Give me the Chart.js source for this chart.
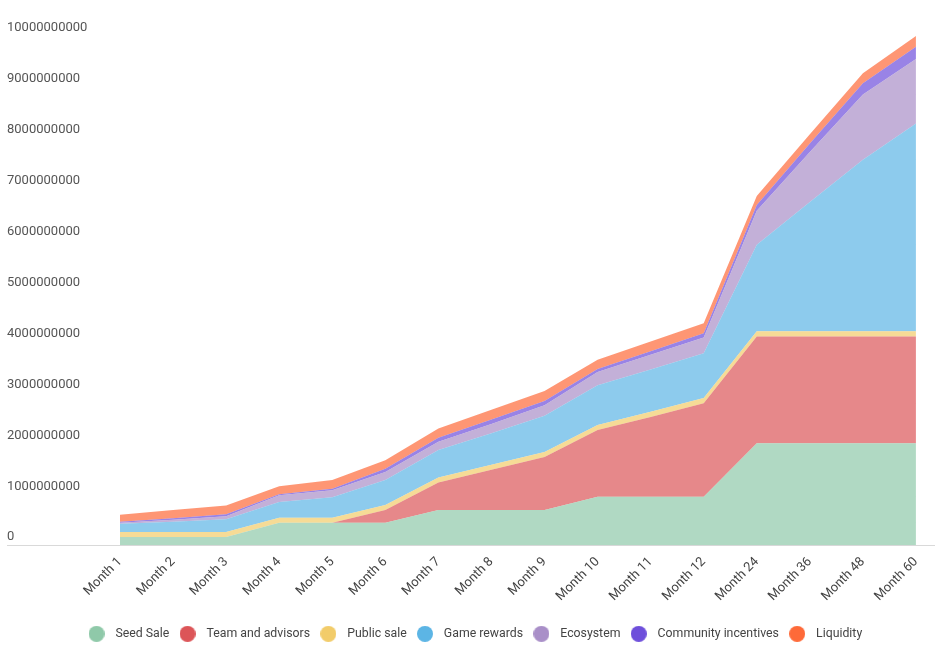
<!DOCTYPE html>
<html>
<head>
<meta charset="utf-8">
<script src="https://cdn.jsdelivr.net/npm/chart.js@4.4.1/dist/chart.umd.min.js"></script>
<style>
  html, body { margin: 0; padding: 0; background: #fff; }
  #wrap { width: 936px; height: 652px; }
</style>
</head>
<body>
<div id="wrap"><canvas id="myChart" width="936" height="652"></canvas></div>
<script>
// categories and series (tokens)
const months = ["Month 1", "Month 2", "Month 3", "Month 4", "Month 5", "Month 6", "Month 7", "Month 8",
  "Month 9", "Month 10", "Month 11", "Month 12", "Month 24", "Month 36", "Month 48", "Month 60"];

const seedSale = [160000000, 160000000, 160000000, 440000000, 440000000, 440000000, 690000000, 690000000,
  690000000, 950000000, 950000000, 950000000, 2000000000, 2000000000, 2000000000, 2000000000];
const teamAdvisors = [0, 0, 0, 0, 0, 250000000, 540000000, 790000000,
  1040000000, 1310000000, 1570000000, 1840000000, 2100000000, 2100000000, 2100000000, 2100000000];
const publicSale = [100000000, 100000000, 100000000, 100000000, 100000000, 100000000, 100000000, 100000000,
  100000000, 100000000, 100000000, 100000000, 100000000, 100000000, 100000000, 100000000];
const gameRewards = [160000000, 200000000, 250000000, 310000000, 400000000, 490000000, 540000000, 620000000,
  710000000, 780000000, 830000000, 880000000, 1700000000, 2540000000, 3370000000, 4080000000];
const ecosystem = [20000000, 40000000, 60000000, 130000000, 140000000, 160000000, 160000000, 180000000,
  210000000, 260000000, 290000000, 310000000, 670000000, 980000000, 1280000000, 1270000000];
const communityIncentives = [20000000, 30000000, 40000000, 20000000, 30000000, 60000000, 80000000, 90000000,
  80000000, 60000000, 70000000, 80000000, 110000000, 170000000, 220000000, 240000000];
const liquidity = [140000000, 160000000, 170000000, 160000000, 170000000, 170000000, 180000000, 190000000,
  200000000, 180000000, 190000000, 200000000, 180000000, 180000000, 200000000, 210000000];

const yMax = 10000000000;
const yStep = 1000000000;

function makeSet(label, data, rgb, first) {
  return {
    label: label,
    data: data,
    backgroundColor: "rgba(" + rgb + ",0.7)",
    borderColor: "rgb(" + rgb + ")",
    borderWidth: 0,
    pointRadius: 0,
    pointHoverRadius: 0,
    fill: first ? "origin" : "-1",
    tension: 0,
  };
}

// little round legend marker, drawn on its own canvas
function dot(color) {
  const c = document.createElement("canvas");
  c.width = 16;
  c.height = 16;
  const g = c.getContext("2d");
  g.fillStyle = color;
  g.beginPath();
  g.arc(8, 8, 8, 0, Math.PI * 2);
  g.fill();
  return c;
}

// light baseline running under the labels too
const baseLine = {
  id: "baseLine",
  afterLayout(chart) {
    // legend sits a bit right of the canvas centre in the original
    chart.legend.left += 11;
    chart.legend.right += 11;
  },
  beforeDatasetsDraw(chart) {
    const c = chart.ctx;
    const y = Math.round(chart.scales.y.getPixelForValue(0)) + 0.5;
    c.save();
    c.strokeStyle = "#d9d9d9";
    c.lineWidth = 1;
    c.beginPath();
    c.moveTo(chart.scales.y.left, y);
    c.lineTo(chart.width - 1, y);
    c.stroke();
    c.restore();
  },
};

let ctx = document.getElementById("myChart").getContext("2d");
let tokenChart = new Chart(ctx, {
  type: "line",
  data: {
    labels: months,
    datasets: [
      makeSet("Seed Sale", seedSale, "143,201,169", true),
      makeSet("Team and advisors", teamAdvisors, "220,85,88"),
      makeSet("Public sale", publicSale, "242,204,106"),
      makeSet("Game rewards", gameRewards, "92,181,229"),
      makeSet("Ecosystem", ecosystem, "169,143,200"),
      makeSet("Community incentives", communityIncentives, "110,79,219"),
      makeSet("Liquidity", liquidity, "254,106,57"),
    ],
  },
  options: {
    responsive: false,
    animation: false,
    layout: { padding: { left: 7, right: 19, top: 36, bottom: 2 } },
    plugins: {
      legend: {
        position: "bottom",
        labels: {
          usePointStyle: true,
          pointStyleWidth: 25.5,
          boxHeight: 12.3,
          padding: 5.5,
          color: "#444",
          font: { family: "Roboto", size: 12.3 },
          generateLabels(chart) {
            return chart.data.datasets.map((ds, i) => ({
              text: ds.label,
              fillStyle: ds.borderColor,
              strokeStyle: ds.borderColor,
              fontColor: "#444",
              lineWidth: 0,
              pointStyle: dot(ds.borderColor),
              hidden: !chart.isDatasetVisible(i),
              datasetIndex: i,
            }));
          },
        },
      },
      tooltip: { enabled: false },
    },
    scales: {
      x: {
        offset: false,
        grid: { display: false, drawTicks: false },
        border: { display: false },
        ticks: {
          autoSkip: false,
          minRotation: 45,
          maxRotation: 45,
          padding: 9,
          color: "#444",
          font: { family: "Roboto", size: 13 },
        },
        afterFit(scale) { scale.height = 77; },
      },
      y: {
        stacked: true,
        min: 0,
        max: yMax,
        grid: { display: false, drawTicks: false },
        border: { display: false },
        ticks: {
          stepSize: yStep,
          crossAlign: "far",
          labelOffset: -8,
          color: "#555",
          font: { family: "Roboto", size: 13 },
          callback: (v) => String(v),
        },
        afterFit(scale) { scale.width = 113; },
      },
    },
  },
  plugins: [baseLine],
});
</script>
</body>
</html>
